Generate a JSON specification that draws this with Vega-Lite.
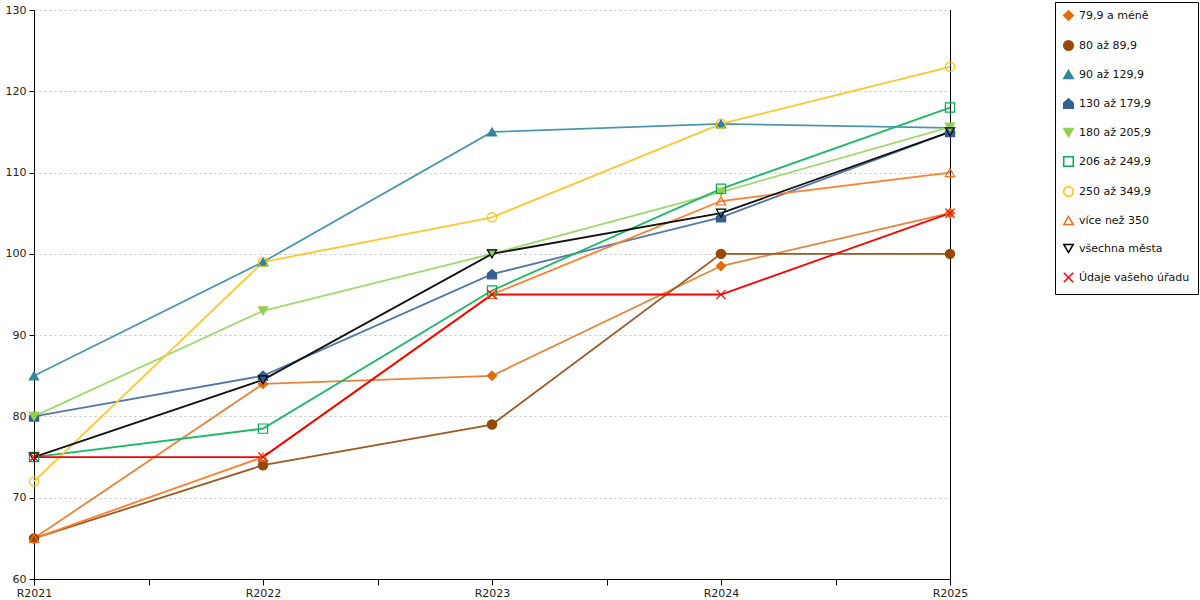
{
  "$schema": "https://vega.github.io/schema/vega-lite/v6.json",
  "width": 916,
  "height": 569,
  "autosize": "none",
  "padding": {"left": 34, "top": 10, "right": 250, "bottom": 21},
  "background": "white",
  "config": {
    "font": "DejaVu Sans",
    "view": {"stroke": null},
    "axis": {"labelFont": "DejaVu Sans", "labelFontSize": 11, "labelColor": "#222222", "domainColor": "#000000", "tickColor": "#000000", "title": null}
  },
  "data": {
    "values": [
      {"series": "79,9 a méně", "year": 2021, "value": 65},
      {"series": "79,9 a méně", "year": 2022, "value": 84},
      {"series": "79,9 a méně", "year": 2023, "value": 85},
      {"series": "79,9 a méně", "year": 2024, "value": 98.5},
      {"series": "79,9 a méně", "year": 2025, "value": 105},
      {"series": "80 až 89,9", "year": 2021, "value": 65},
      {"series": "80 až 89,9", "year": 2022, "value": 74},
      {"series": "80 až 89,9", "year": 2023, "value": 79},
      {"series": "80 až 89,9", "year": 2024, "value": 100},
      {"series": "80 až 89,9", "year": 2025, "value": 100},
      {"series": "90 až 129,9", "year": 2021, "value": 85},
      {"series": "90 až 129,9", "year": 2022, "value": 99},
      {"series": "90 až 129,9", "year": 2023, "value": 115},
      {"series": "90 až 129,9", "year": 2024, "value": 116},
      {"series": "90 až 129,9", "year": 2025, "value": 115.5},
      {"series": "130 až 179,9", "year": 2021, "value": 80},
      {"series": "130 až 179,9", "year": 2022, "value": 85},
      {"series": "130 až 179,9", "year": 2023, "value": 97.5},
      {"series": "130 až 179,9", "year": 2024, "value": 104.5},
      {"series": "130 až 179,9", "year": 2025, "value": 115},
      {"series": "180 až 205,9", "year": 2021, "value": 80},
      {"series": "180 až 205,9", "year": 2022, "value": 93},
      {"series": "180 až 205,9", "year": 2023, "value": 100},
      {"series": "180 až 205,9", "year": 2024, "value": 107.6},
      {"series": "180 až 205,9", "year": 2025, "value": 115.6},
      {"series": "206 až 249,9", "year": 2021, "value": 75},
      {"series": "206 až 249,9", "year": 2022, "value": 78.5},
      {"series": "206 až 249,9", "year": 2023, "value": 95.5},
      {"series": "206 až 249,9", "year": 2024, "value": 108},
      {"series": "206 až 249,9", "year": 2025, "value": 118},
      {"series": "250 až 349,9", "year": 2021, "value": 72},
      {"series": "250 až 349,9", "year": 2022, "value": 99},
      {"series": "250 až 349,9", "year": 2023, "value": 104.5},
      {"series": "250 až 349,9", "year": 2024, "value": 116},
      {"series": "250 až 349,9", "year": 2025, "value": 123},
      {"series": "více než 350", "year": 2021, "value": 65},
      {"series": "více než 350", "year": 2022, "value": 75},
      {"series": "více než 350", "year": 2023, "value": 95},
      {"series": "více než 350", "year": 2024, "value": 106.5},
      {"series": "více než 350", "year": 2025, "value": 110},
      {"series": "všechna města", "year": 2021, "value": 75},
      {"series": "všechna města", "year": 2022, "value": 84.5},
      {"series": "všechna města", "year": 2023, "value": 100},
      {"series": "všechna města", "year": 2024, "value": 105},
      {"series": "všechna města", "year": 2025, "value": 115},
      {"series": "Údaje vašeho úřadu", "year": 2021, "value": 75},
      {"series": "Údaje vašeho úřadu", "year": 2022, "value": 75},
      {"series": "Údaje vašeho úřadu", "year": 2023, "value": 95},
      {"series": "Údaje vašeho úřadu", "year": 2024, "value": 95},
      {"series": "Údaje vašeho úřadu", "year": 2025, "value": 105}
    ]
  },
  "layer": [
    {
      "mark": {"type": "line", "strokeWidth": 1.8},
      "encoding": {
        "x": {
          "field": "year", "type": "quantitative",
          "scale": {"domain": [2021, 2025], "nice": false, "zero": false},
          "axis": {
            "values": [2021, 2021.5, 2022, 2022.5, 2023, 2023.5, 2024, 2024.5, 2025],
            "labelExpr": "datum.value % 1 === 0 ? 'R' + datum.value : ''",
            "labelFlush": false, "labelOverlap": false, "grid": false, "tickSize": 6, "labelPadding": 2
          }
        },
        "y": {
          "field": "value", "type": "quantitative",
          "scale": {"domain": [60, 130], "nice": false, "zero": false},
          "axis": {
            "values": [60, 70, 80, 90, 100, 110, 120, 130],
            "grid": true, "gridDash": [2, 3], "gridColor": "#c4c4c4", "tickSize": 5, "labelPadding": 3
          }
        },
        "color": {
          "field": "series", "type": "nominal", "legend": null,
          "scale": {
            "domain": ["Údaje vašeho úřadu", "všechna města", "více než 350", "250 až 349,9", "206 až 249,9", "180 až 205,9", "130 až 179,9", "90 až 129,9", "80 až 89,9", "79,9 a méně"],
            "range": ["#FF0000", "#111111", "#FF7F2A", "#FFC62A", "#1DB865", "#A0D870", "#5479A8", "#4B98AB", "#9C5A24", "#E8833A"]
          }
        },
        "order": {"field": "year"}
      }
    },
    {
      "mark": {"type": "rule", "color": "#000000", "strokeWidth": 1, "xOffset": 0.5},
      "encoding": {"x": {"datum": 2025}}
    },
    {
      "mark": {"type": "point", "size": 85, "strokeWidth": 1.2, "opacity": 1},
      "encoding": {
        "x": {"field": "year", "type": "quantitative"},
        "y": {"field": "value", "type": "quantitative"},
        "shape": {
          "field": "series", "type": "nominal",
          "scale": {
            "domain": ["79,9 a méně", "80 až 89,9", "90 až 129,9", "130 až 179,9", "180 až 205,9", "206 až 249,9", "250 až 349,9", "více než 350", "všechna města", "Údaje vašeho úřadu"],
            "range": ["diamond", "circle", "triangle-up", "M-1,-0.1L0,-1L1,-0.1L1,1L-1,1Z", "triangle-down", "square", "circle", "triangle-up", "triangle-down", "M-1,-1L1,1M1,-1L-1,1"]
          },
          "legend": {
            "title": null, "orient": "none", "legendX": 1021, "legendY": -8,
            "strokeColor": "#000000", "padding": 8, "rowPadding": 13,
            "labelFont": "DejaVu Sans", "labelFontSize": 11, "labelColor": "#111111",
            "symbolSize": 90, "labelOffset": 5, "labelLimit": 200
          }
        },
        "fill": {
          "field": "series", "type": "nominal",
          "scale": {
            "domain": ["79,9 a méně", "80 až 89,9", "90 až 129,9", "130 až 179,9", "180 až 205,9", "206 až 249,9", "250 až 349,9", "více než 350", "všechna města", "Údaje vašeho úřadu"],
            "range": ["#E26B0A", "#974706", "#31859C", "#366092", "#92D050", "transparent", "transparent", "transparent", "transparent", "transparent"]
          },
          "legend": {
            "title": null, "orient": "none", "legendX": 1021, "legendY": -8,
            "strokeColor": "#000000", "padding": 8, "rowPadding": 13,
            "labelFont": "DejaVu Sans", "labelFontSize": 11, "labelColor": "#111111",
            "symbolSize": 90, "labelOffset": 5, "labelLimit": 200
          }
        },
        "stroke": {
          "field": "series", "type": "nominal",
          "scale": {
            "domain": ["79,9 a méně", "80 až 89,9", "90 až 129,9", "130 až 179,9", "180 až 205,9", "206 až 249,9", "250 až 349,9", "více než 350", "všechna města", "Údaje vašeho úřadu"],
            "range": ["#E26B0A", "#974706", "#31859C", "#366092", "#92D050", "#00B050", "#FFC000", "#F96A14", "#000000", "#FF0000"]
          },
          "legend": {
            "title": null, "orient": "none", "legendX": 1021, "legendY": -8,
            "strokeColor": "#000000", "padding": 8, "rowPadding": 13,
            "labelFont": "DejaVu Sans", "labelFontSize": 11, "labelColor": "#111111",
            "symbolSize": 90, "labelOffset": 5, "labelLimit": 200
          }
        }
      }
    }
  ]
}
